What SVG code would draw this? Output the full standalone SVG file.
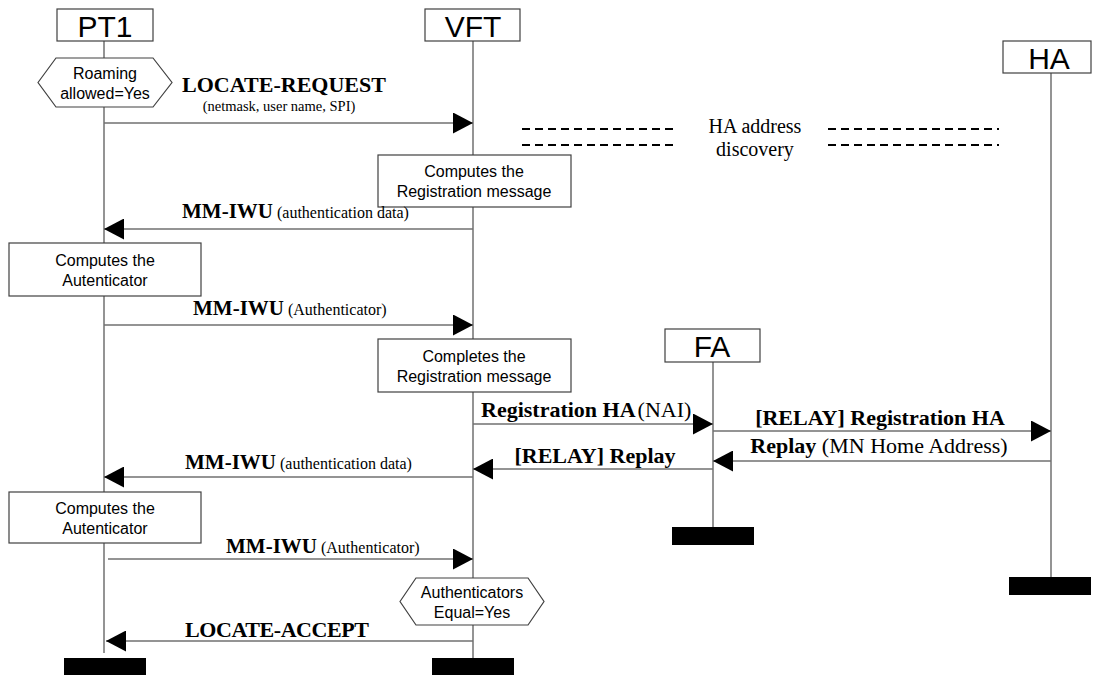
<svg xmlns="http://www.w3.org/2000/svg" width="1093" height="675" viewBox="0 0 1093 675">
  <style>
    .box { fill: #fff; stroke: #404040; stroke-width: 1.2; }
    .life { stroke: #707070; stroke-width: 1.5; fill: none; }
    .msg { stroke: #707070; stroke-width: 1.5; fill: none; marker-end: url(#ah); }
    .dash { stroke: #000; stroke-width: 2; stroke-dasharray: 8 5; fill: none; }
    .bar { fill: #000; }
    .head { font-family: "Liberation Sans", Arial, sans-serif; font-size: 30px; text-anchor: middle; fill: #000; }
    .note { font-family: "Liberation Sans", Arial, sans-serif; font-size: 16px; text-anchor: middle; fill: #000; }
    .lbl { font-family: "Liberation Serif", "Times New Roman", serif; fill: #000; }
    .b { font-weight: bold; }
  </style>
  <defs>
    <marker id="ah" viewBox="0 0 20 21" refX="20" refY="10.5" markerWidth="20" markerHeight="21" markerUnits="userSpaceOnUse" orient="auto">
      <path d="M0,0 L20,10.5 L0,21 z" fill="#000"/>
    </marker>
  </defs>
  <rect width="1093" height="675" fill="#fff"/>

  <!-- lifelines -->
  <g id="lifelines">
    <line class="life" x1="104" y1="41" x2="104" y2="653"/>
    <line class="life" x1="473" y1="41" x2="473" y2="658"/>
    <line class="life" x1="713" y1="362" x2="713" y2="527"/>
    <line class="life" x1="1051" y1="73" x2="1051" y2="577"/>
  </g>

  <!-- participants -->
  <g id="pt1">
    <rect class="box" x="57" y="9" width="96" height="32"/>
    <text class="head" x="105" y="37">PT1</text>
    <rect class="bar" x="64" y="658" width="82" height="17"/>
  </g>
  <g id="vft">
    <rect class="box" x="425" y="9" width="95" height="32"/>
    <text class="head" x="473" y="37">VFT</text>
    <rect class="bar" x="432" y="658" width="82" height="17"/>
  </g>
  <g id="ha">
    <rect class="box" x="1003" y="41" width="88" height="32"/>
    <text class="head" x="1049" y="69">HA</text>
    <rect class="bar" x="1009" y="577" width="82" height="18"/>
  </g>
  <g id="fa">
    <rect class="box" x="665" y="329" width="95" height="33"/>
    <text class="head" x="712" y="357">FA</text>
    <rect class="bar" x="672" y="527" width="82" height="18"/>
  </g>

  <!-- conditions and actions -->
  <g id="roaming">
    <polygon class="box" points="38,82.5 56,58 153,58 172,82.5 153,107 56,107"/>
    <text class="note" x="105" y="79">Roaming</text>
    <text class="note" x="105" y="99">allowed=Yes</text>
  </g>
  <g id="computes-registration">
    <rect class="box" x="378" y="155" width="193" height="52"/>
    <text class="note" x="474" y="177">Computes the</text>
    <text class="note" x="474" y="197">Registration message</text>
  </g>
  <g id="computes-authenticator-1">
    <rect class="box" x="9" y="243" width="192" height="53"/>
    <text class="note" x="105" y="266">Computes the</text>
    <text class="note" x="105" y="286">Autenticator</text>
  </g>
  <g id="completes-registration">
    <rect class="box" x="378" y="339" width="193" height="53"/>
    <text class="note" x="474" y="362">Completes the</text>
    <text class="note" x="474" y="382">Registration message</text>
  </g>
  <g id="computes-authenticator-2">
    <rect class="box" x="9" y="492" width="192" height="51"/>
    <text class="note" x="105" y="514">Computes the</text>
    <text class="note" x="105" y="534">Autenticator</text>
  </g>
  <g id="authenticators-equal">
    <polygon class="box" points="400,601.5 416,578 528,578 544,601.5 528,625 416,625"/>
    <text class="note" x="472" y="598">Authenticators</text>
    <text class="note" x="472" y="618">Equal=Yes</text>
  </g>

  <!-- HA address discovery -->
  <g id="ha-discovery">
    <line class="dash" x1="522" y1="129" x2="677" y2="129"/>
    <line class="dash" x1="522" y1="145" x2="677" y2="145"/>
    <line class="dash" x1="828" y1="129" x2="999" y2="129"/>
    <line class="dash" x1="828" y1="145" x2="999" y2="145"/>
    <text class="lbl" x="755" y="133" font-size="20" text-anchor="middle">HA address</text>
    <text class="lbl" x="755" y="155.5" font-size="20" text-anchor="middle">discovery</text>
  </g>

  <!-- messages -->
  <g id="connectors">
    <line class="msg" x1="104" y1="123" x2="473" y2="123"/>
    <line class="msg" x1="473" y1="229" x2="104" y2="229"/>
    <line class="msg" x1="104" y1="325" x2="473" y2="325"/>
    <line class="msg" x1="473" y1="424" x2="713" y2="424"/>
    <line class="msg" x1="713" y1="431" x2="1051" y2="431"/>
    <line class="msg" x1="1051" y1="461" x2="713" y2="461"/>
    <line class="msg" x1="713" y1="469" x2="473" y2="469"/>
    <line class="msg" x1="473" y1="477" x2="104" y2="477"/>
    <line class="msg" x1="108" y1="559" x2="473" y2="559"/>
    <line class="msg" x1="473" y1="641" x2="106" y2="641"/>
  </g>

  <!-- message labels -->
  <g id="labels">
    <text class="lbl b" x="182" y="92" font-size="22" textLength="204" lengthAdjust="spacing">LOCATE-REQUEST</text>
    <text class="lbl" x="279" y="111" font-size="14.5" text-anchor="middle">(netmask, user name, SPI)</text>

    <text class="lbl" x="182" y="218"><tspan class="b" font-size="21">MM-IWU</tspan><tspan font-size="16" dx="4">(authentication data)</tspan></text>
    <text class="lbl" x="193" y="315"><tspan class="b" font-size="21">MM-IWU</tspan><tspan font-size="16" dx="4">(Authenticator)</tspan></text>

    <text class="lbl" x="481" y="417"><tspan class="b" font-size="22">Registration HA</tspan><tspan font-size="22" dx="2">(NAI)</tspan></text>
    <text class="lbl b" x="880" y="425" font-size="22" text-anchor="middle">[RELAY] Registration HA</text>
    <text class="lbl" x="879" y="453" font-size="22" text-anchor="middle"><tspan class="b">Replay</tspan> (MN Home Address)</text>
    <text class="lbl b" x="595" y="463" font-size="22" text-anchor="middle">[RELAY] Replay</text>

    <text class="lbl" x="185" y="469"><tspan class="b" font-size="21">MM-IWU</tspan><tspan font-size="16" dx="4">(authentication data)</tspan></text>
    <text class="lbl" x="226" y="553"><tspan class="b" font-size="21">MM-IWU</tspan><tspan font-size="16" dx="4">(Authenticator)</tspan></text>

    <text class="lbl b" x="185" y="637" font-size="22" textLength="184" lengthAdjust="spacing">LOCATE-ACCEPT</text>
  </g>
</svg>
